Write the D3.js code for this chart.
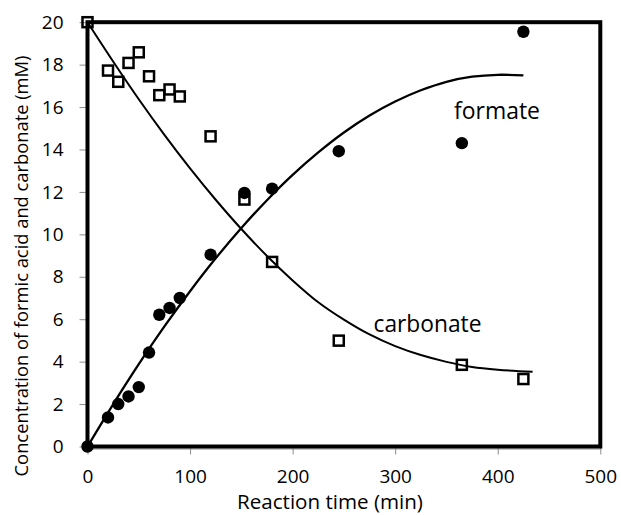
<!DOCTYPE html>
<html>
<head>
<meta charset="utf-8">
<script src="https://cdn.jsdelivr.net/npm/d3@7"></script>
<style>
  html, body { margin: 0; padding: 0; background: #fff; }
  svg { display: block; }
  text { font-family: "Open Sans", sans-serif; fill: #000; }
</style>
</head>
<body>
<svg id="chart" width="621" height="515"></svg>
<script>
// ---- data ----
const sampleTime = [0, 20, 30, 40, 50, 60, 70, 80, 90, 120, 153, 180, 245, 365, 425];
const formate    = [0, 1.37, 2.0, 2.36, 2.8, 4.43, 6.21, 6.53, 7.0, 9.04, 11.95, 12.15, 13.92, 14.3, 19.55];
const carbonate  = [20, 17.72, 17.19, 18.08, 18.58, 17.45, 16.56, 16.83, 16.5, 14.62, 11.64, 8.7, 4.99, 3.85, 3.18];

const formateFitTime = [0, 25, 50, 75, 100, 125, 150, 175, 200, 225, 250, 275, 300, 325, 350, 375, 400, 425];
const formateFit     = [0, 1.99, 3.88, 5.66, 7.32, 8.87, 10.3, 11.61, 12.8, 13.86, 14.8, 15.6, 16.26, 16.79, 17.19, 17.43, 17.52, 17.49];
const carbonateFitTime = [0, 25, 50, 75, 100, 125, 150, 175, 200, 225, 250, 275, 300, 325, 350, 375, 400, 434];
const carbonateFit     = [20, 18.15, 16.37, 14.69, 13.11, 11.63, 10.25, 8.98, 7.83, 6.8, 5.98, 5.28, 4.73, 4.31, 3.99, 3.75, 3.62, 3.52];

const xTicks = [0, 100, 200, 300, 400, 500];
const yTicks = [0, 2, 4, 6, 8, 10, 12, 14, 16, 18, 20];
const xTitle = "Reaction time (min)";
const yTitle = "Concentration of formic acid and carbonate (mM)";
const seriesLabels = ["formate", "carbonate"];

// ---- layout ----
const svg = d3.select("#chart");
const x = d3.scaleLinear().domain([0, 500]).range([87.5, 600.3]);
const y = d3.scaleLinear().domain([0, 20]).range([446.5, 22.2]);

// fit a text element to a target width by adjusting font size
function fitWidth(sel, target) {
  const node = sel.node();
  const fs = parseFloat(sel.style("font-size"));
  const w = node.getComputedTextLength();
  if (w > 0) sel.style("font-size", (fs * target / w).toFixed(2) + "px");
  return sel;
}

// gray axis line under bottom frame
svg.append("line")
  .attr("x1", x(0)).attr("x2", x(500) + 1)
  .attr("y1", 449).attr("y2", 449)
  .attr("stroke", "#8c8c8c").attr("stroke-width", 1);

// axes (ticks + labels)
const gx = svg.append("g").attr("transform", `translate(0,${y(0)})`)
  .call(d3.axisBottom(x).tickValues(xTicks).tickSize(8).tickPadding(15).tickFormat(d3.format("d")));
gx.select(".domain").remove();
gx.selectAll(".tick line").attr("stroke", "#8c8c8c").attr("stroke-width", 1);
gx.selectAll(".tick text").style("font-size", "19px").style("font-family", "'Open Sans', sans-serif");

const gy = svg.append("g").attr("transform", `translate(${x(0)},0)`)
  .call(d3.axisLeft(y).tickValues(yTicks).tickSize(8).tickPadding(16).tickFormat(d3.format("d")));
gy.select(".domain").remove();
gy.selectAll(".tick line").attr("stroke", "#8c8c8c").attr("stroke-width", 1);
gy.selectAll(".tick text").style("font-size", "19px").style("font-family", "'Open Sans', sans-serif");

// plot frame
svg.append("rect")
  .attr("x", x(0)).attr("y", y(20))
  .attr("width", x(500) - x(0)).attr("height", y(0) - y(20))
  .attr("fill", "none").attr("stroke", "#000").attr("stroke-width", 4);

// fitted curves
const line = d3.line().x(d => x(d[0])).y(d => y(d[1])).curve(d3.curveCatmullRom.alpha(0.5));
svg.append("path")
  .datum(formateFitTime.map((t, i) => [t, formateFit[i]]))
  .attr("d", line).attr("fill", "none").attr("stroke", "#000").attr("stroke-width", 2.3);
svg.append("path")
  .datum(carbonateFitTime.map((t, i) => [t, carbonateFit[i]]))
  .attr("d", line).attr("fill", "none").attr("stroke", "#000").attr("stroke-width", 2);

// carbonate: open squares
const sq = 10;
svg.append("g").selectAll("rect")
  .data(sampleTime.map((t, i) => [t, carbonate[i]]))
  .join("rect")
  .attr("x", d => x(d[0]) - sq / 2).attr("y", d => y(d[1]) - sq / 2)
  .attr("width", sq).attr("height", sq)
  .attr("fill", "none").attr("stroke", "#000").attr("stroke-width", 2.5);

// formate: filled circles
svg.append("g").selectAll("circle")
  .data(sampleTime.map((t, i) => [t, formate[i]]))
  .join("circle")
  .attr("cx", d => x(d[0])).attr("cy", d => y(d[1])).attr("r", 6.2)
  .attr("fill", "#000");

// series labels
fitWidth(svg.append("text").attr("x", 497).attr("y", 119).attr("text-anchor", "middle")
  .style("font-size", "23px").text(seriesLabels[0]), 86);
fitWidth(svg.append("text").attr("x", 427.5).attr("y", 331.5).attr("text-anchor", "middle")
  .style("font-size", "23px").text(seriesLabels[1]), 108);

// axis titles
fitWidth(svg.append("text").attr("x", 330).attr("y", 508.5).attr("text-anchor", "middle")
  .style("font-size", "20px").text(xTitle), 186);
fitWidth(svg.append("text").attr("transform", "translate(28,266) rotate(-90)")
  .attr("text-anchor", "middle").style("font-size", "18px").text(yTitle), 421);
</script>
</body>
</html>
